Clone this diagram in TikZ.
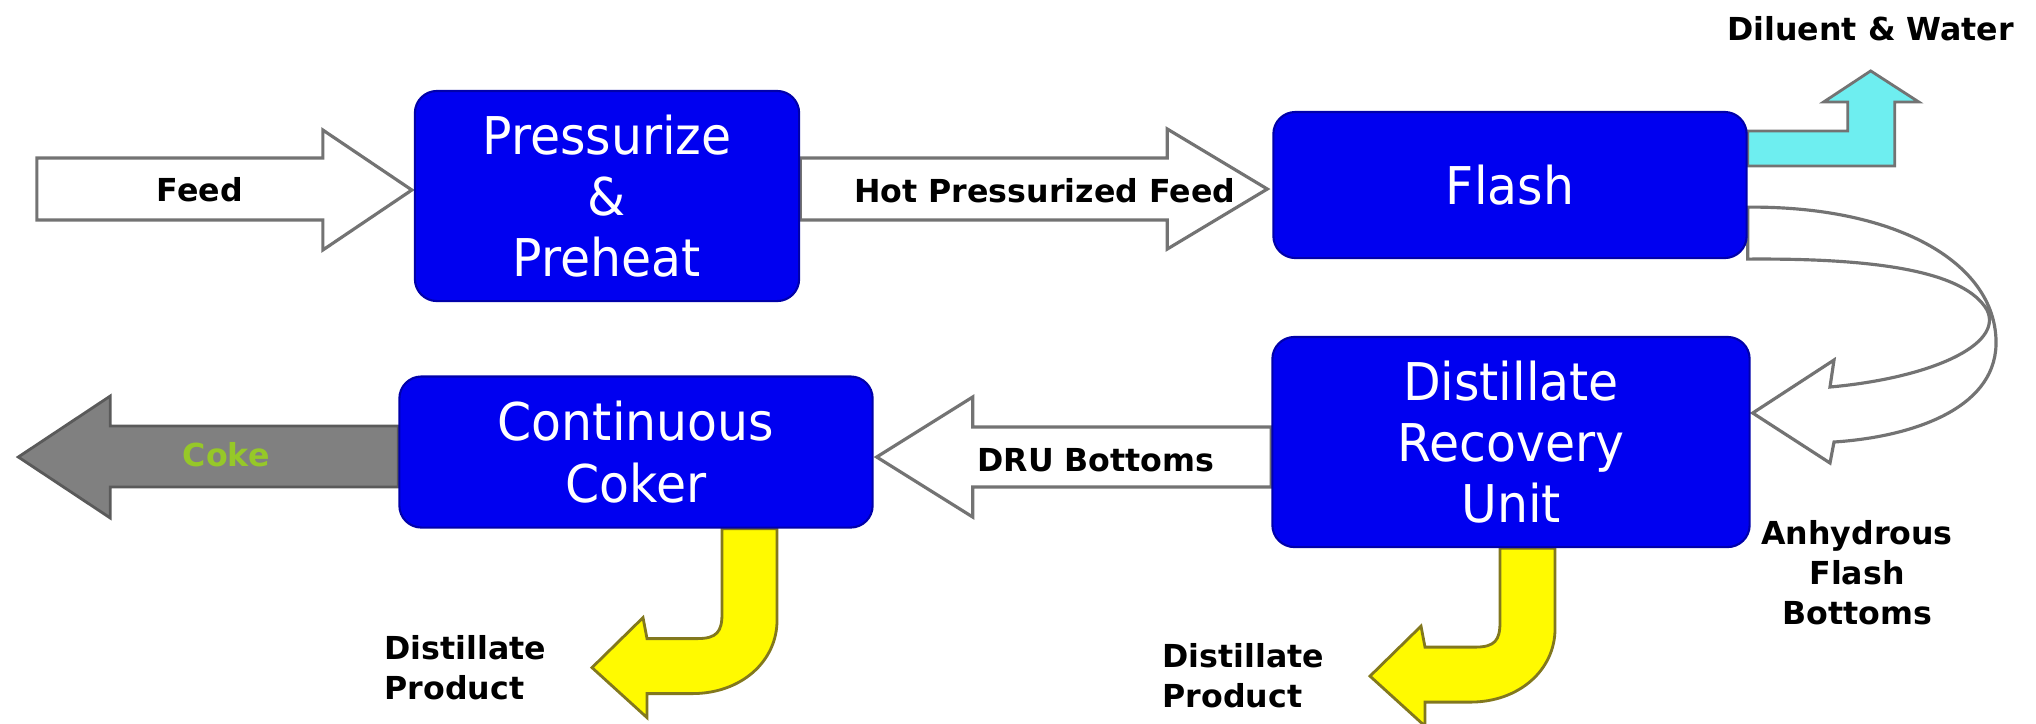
\documentclass[tikz,border=0pt]{standalone}
\usepackage{fontspec}
\setmainfont{DejaVu Sans}
\newfontfamily\unitfont[FakeStretch=0.94]{DejaVu Sans}
\usetikzlibrary{calc,positioning,backgrounds}

\definecolor{unitblue}{RGB}{0,0,240}
\definecolor{unitedge}{RGB}{0,0,170}
\definecolor{arrowgray}{RGB}{115,115,115}
\definecolor{cokegray}{RGB}{128,128,128}
\definecolor{cokegreen}{RGB}{150,200,40}
\definecolor{vapourcyan}{RGB}{110,238,240}
\definecolor{prodyellow}{RGB}{255,250,0}
\definecolor{prodedge}{RGB}{130,120,30}

\tikzset{
  unit/.style={rounded corners=0.22cm, fill=unitblue, draw=unitedge, line width=0.6pt,
    text=white, align=center, inner sep=0pt, font=\unitfont\fontsize{14.8}{17.4}\selectfont},
  lbl/.style={font=\bfseries\fontsize{9}{11.4}\selectfont, inner sep=0pt},
  hollow/.style={fill=white, draw=arrowgray, line width=0.9pt},
  coke/.style={fill=cokegray, draw=cokegray!70!black, line width=0.8pt},
  vapour/.style={fill=vapourcyan, draw=arrowgray, line width=0.8pt},
  product/.style={fill=prodyellow, draw=prodedge, line width=0.8pt}
}

\begin{document}
\begin{tikzpicture}[x=0.01cm, y=-0.01cm]
\useasboundingbox (0,0) rectangle (2036,723);

% process units
\node[unit, minimum width=3.84cm, minimum height=2.10cm] (pre) at (607,196) {Pressurize\\\&\\Preheat};
\node[unit, minimum width=4.73cm, minimum height=1.46cm] (flash) at (1510,185) {Flash};
\node[unit, minimum width=4.77cm, minimum height=2.10cm] (dru) at (1511,442) {Distillate\\Recovery\\Unit};
\node[unit, minimum width=4.73cm, minimum height=1.51cm] (coker) at (636,452) {Continuous\\Coker};

\begin{scope}[on background layer]
% feed
\draw[hollow] ($(pre.west)+(-2,-6)$) coordinate (feedtip) -- ++(-89,-60) -- ++(0,28) -- ++(-286,0)
  -- ++(0,62) -- ++(286,0) -- ++(0,30) -- cycle;
% hot pressurized feed
\draw[hollow] ($(flash.west)+(-5,4)$) coordinate (hottip) -- ++(-100,-60) -- ++(0,29) coordinate (hs1)
  -- (pre.east |- hs1) -- ++(0,62) coordinate (hs2) -- (hs1 |- hs2) -- ++(0,29) -- cycle;
% diluent and water
\draw[vapour] ($(flash.north east)+(0,20)$) -- ++(100,0) -- ++(0,-29) -- ++(-24,0)
  -- ++(47,-31) coordinate (diltip) -- ++(48,31) -- ++(-24,0) -- ++(0,64)
  -- ($(flash.north east)+(0,55)$) -- cycle;
% flash bottoms
\draw[hollow] ($(flash.south east)+(0,-52)$) .. controls (1900,206) and (1998,265) .. (1996,345)
  .. controls (1994,410) and (1910,437) .. (1834,442) -- (1830,463) coordinate (lowbarb)
  -- ($(dru.east)+(2,-29)$) coordinate (bendtip) -- (1834,360) -- (1830,387)
  .. controls (1930,378) and (2004,345) .. (1987,310)
  .. controls (1965,272) and (1880,258) .. (flash.south east) -- cycle;
% dru bottoms
\draw[hollow] ($(coker.east)+(3,5)$) coordinate (drutip) -- ++(96,-60) -- ++(0,30) coordinate (ds1)
  -- (dru.west |- ds1) -- ++(0,60) coordinate (ds2) -- (ds1 |- ds2) -- ++(0,30) -- cycle;
% coke
\draw[coke] ($(coker.west)+(0,-26)$) -- ++(-288,0) -- ++(0,-30) -- ++(-92,61) coordinate (coketip)
  -- ++(92,61) -- ++(0,-31) -- ++(288,0) -- cycle;
% distillate products
\draw[product] ($(coker.south)+(86,0)$) -- ++(0,85) .. controls +(0,18) and +(20,0) .. ++(-25,25)
  -- ++(-50,0) -- ++(-4,-21) -- ++(-51,50) coordinate (ytip1) -- ++(55,50) -- ++(0,-24)
  -- ++(45,0) .. controls +(50,0) and +(0,40) .. ++(85,-73) -- ++(0,-92) -- cycle;
\draw[product] ($(dru.south)+(-11,0)$) -- ++(0,74) .. controls +(0,18) and +(20,0) .. ++(-25,25)
  -- ++(-50,0) -- ++(-4,-21) -- ++(-51,50) coordinate (ytip2) -- ++(55,50) -- ++(0,-24)
  -- ++(45,0) .. controls +(50,0) and +(0,40) .. ++(85,-73) -- ++(0,-81) -- cycle;
\end{scope}

% stream labels
\node[lbl] (feedlbl) at ($(feedtip)+(-212,0)$) {Feed};
\node[lbl] (hotlbl) at ($(pre.east)!0.5!(hottip)+(11,-2)$) {Hot Pressurized Feed};
\node[lbl] (dillbl) at ($(diltip)+(0,-42)$) {Diluent \& Water};
\node[lbl, align=center] (anhlbl) at ($(lowbarb)+(27,110)$) {Anhydrous\\Flash\\Bottoms};
\node[lbl] (drulbl) at ($(ds1)!0.5!(dru.west |- ds2)+(-26,3)$) {DRU Bottoms};
\node[lbl, text=cokegreen] (cokelbl) at ($(coketip)+(208,-2)$) {Coke};
\node[lbl, align=left, left=0.45cm of ytip1] (prod1) {Distillate\\Product};
\node[lbl, align=left, left=0.45cm of ytip2] (prod2) {Distillate\\Product};
\end{tikzpicture}
\end{document}
